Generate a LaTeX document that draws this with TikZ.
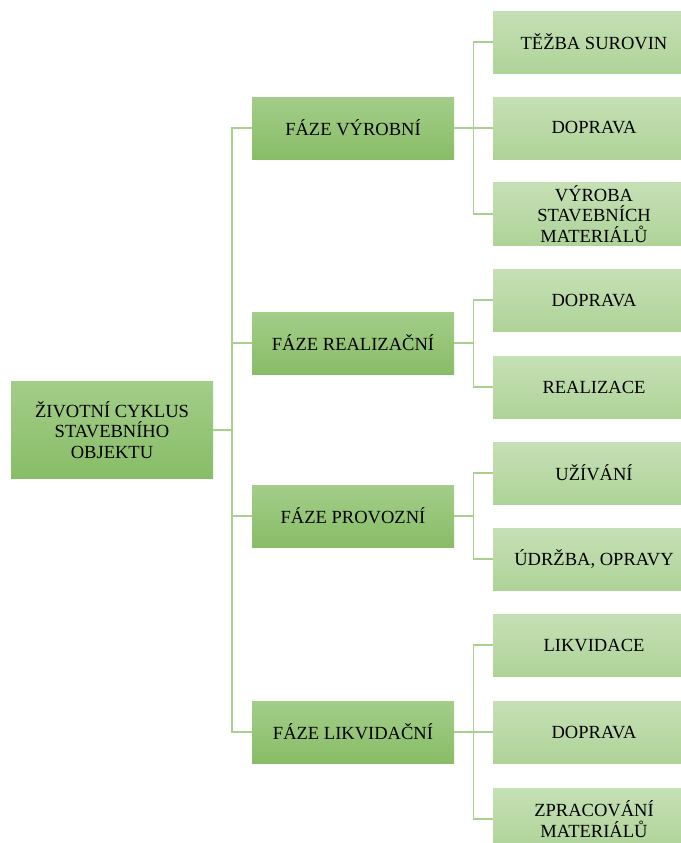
\documentclass[tikz,border=0pt]{standalone}
\usepackage{fontspec}
\setmainfont{Liberation Serif}

\definecolor{darkTop}{HTML}{A3CD89}
\definecolor{darkBot}{HTML}{88BD66}
\definecolor{lightTop}{HTML}{C6E0B5}
\definecolor{lightBot}{HTML}{AED398}
\definecolor{lineGreen}{HTML}{A9D18E}

\tikzset{
	box/.style={rectangle, minimum width=151.5pt, inner sep=2pt, align=center,
		font=\fontsize{13.9}{15.3}\selectfont, text=black},
	rootbox/.style={box, minimum height=72.75pt, top color=darkTop, bottom color=darkBot},
	phasebox/.style={box, minimum height=46.5pt, top color=darkTop, bottom color=darkBot},
	leafbox/.style={box, minimum height=46.5pt, top color=lightTop, bottom color=lightBot},
	conn/.style={draw=lineGreen, line width=1pt}
}

\begin{document}
\begin{tikzpicture}[x=0.75pt, y=-0.75pt]
\useasboundingbox (0,0) rectangle (681,843);

\node[rootbox] (root) at (112,430) {ŽIVOTNÍ CYKLUS\\STAVEBNÍHO\\OBJEKTU};

\node[phasebox] (vyr) at (353,128) {FÁZE VÝROBNÍ};
\node[phasebox] (rea) at (353,343) {FÁZE REALIZAČNÍ};
\node[phasebox] (pro) at (353,516) {FÁZE PROVOZNÍ};
\node[phasebox] (lik) at (353,732) {FÁZE LIKVIDAČNÍ};

\node[leafbox] (tezba) at (594,42) {TĚŽBA SUROVIN};
\node[leafbox] (dopr1) at (594,128) {DOPRAVA};
\node[leafbox] (vyroba) at (594,214) {VÝROBA\\STAVEBNÍCH\\MATERIÁLŮ};
\node[leafbox] (dopr2) at (594,300) {DOPRAVA};
\node[leafbox] (realiz) at (594,387) {REALIZACE};
\node[leafbox] (uziv) at (594,473) {UŽÍVÁNÍ};
\node[leafbox] (udrz) at (594,559) {ÚDRŽBA, OPRAVY};
\node[leafbox] (likv) at (594,645) {LIKVIDACE};
\node[leafbox] (dopr3) at (594,732) {DOPRAVA};
\node[leafbox] (zprac) at (594,819) {ZPRACOVÁNÍ\\MATERIÁLŮ};

% root to phases
\coordinate (spine) at (232,0);
\foreach \p in {vyr,rea,pro,lik}
	\draw[conn] (root.east) -- (root.east -| spine) |- (\p.west);

% phases to leaves
\foreach \p/\l in {vyr/tezba,vyr/dopr1,vyr/vyroba,rea/dopr2,rea/realiz,pro/uziv,pro/udrz,lik/likv,lik/dopr3,lik/zprac}
	\draw[conn] (\p.east) -- ++(19,0) |- (\l.west);

\end{tikzpicture}
\end{document}
